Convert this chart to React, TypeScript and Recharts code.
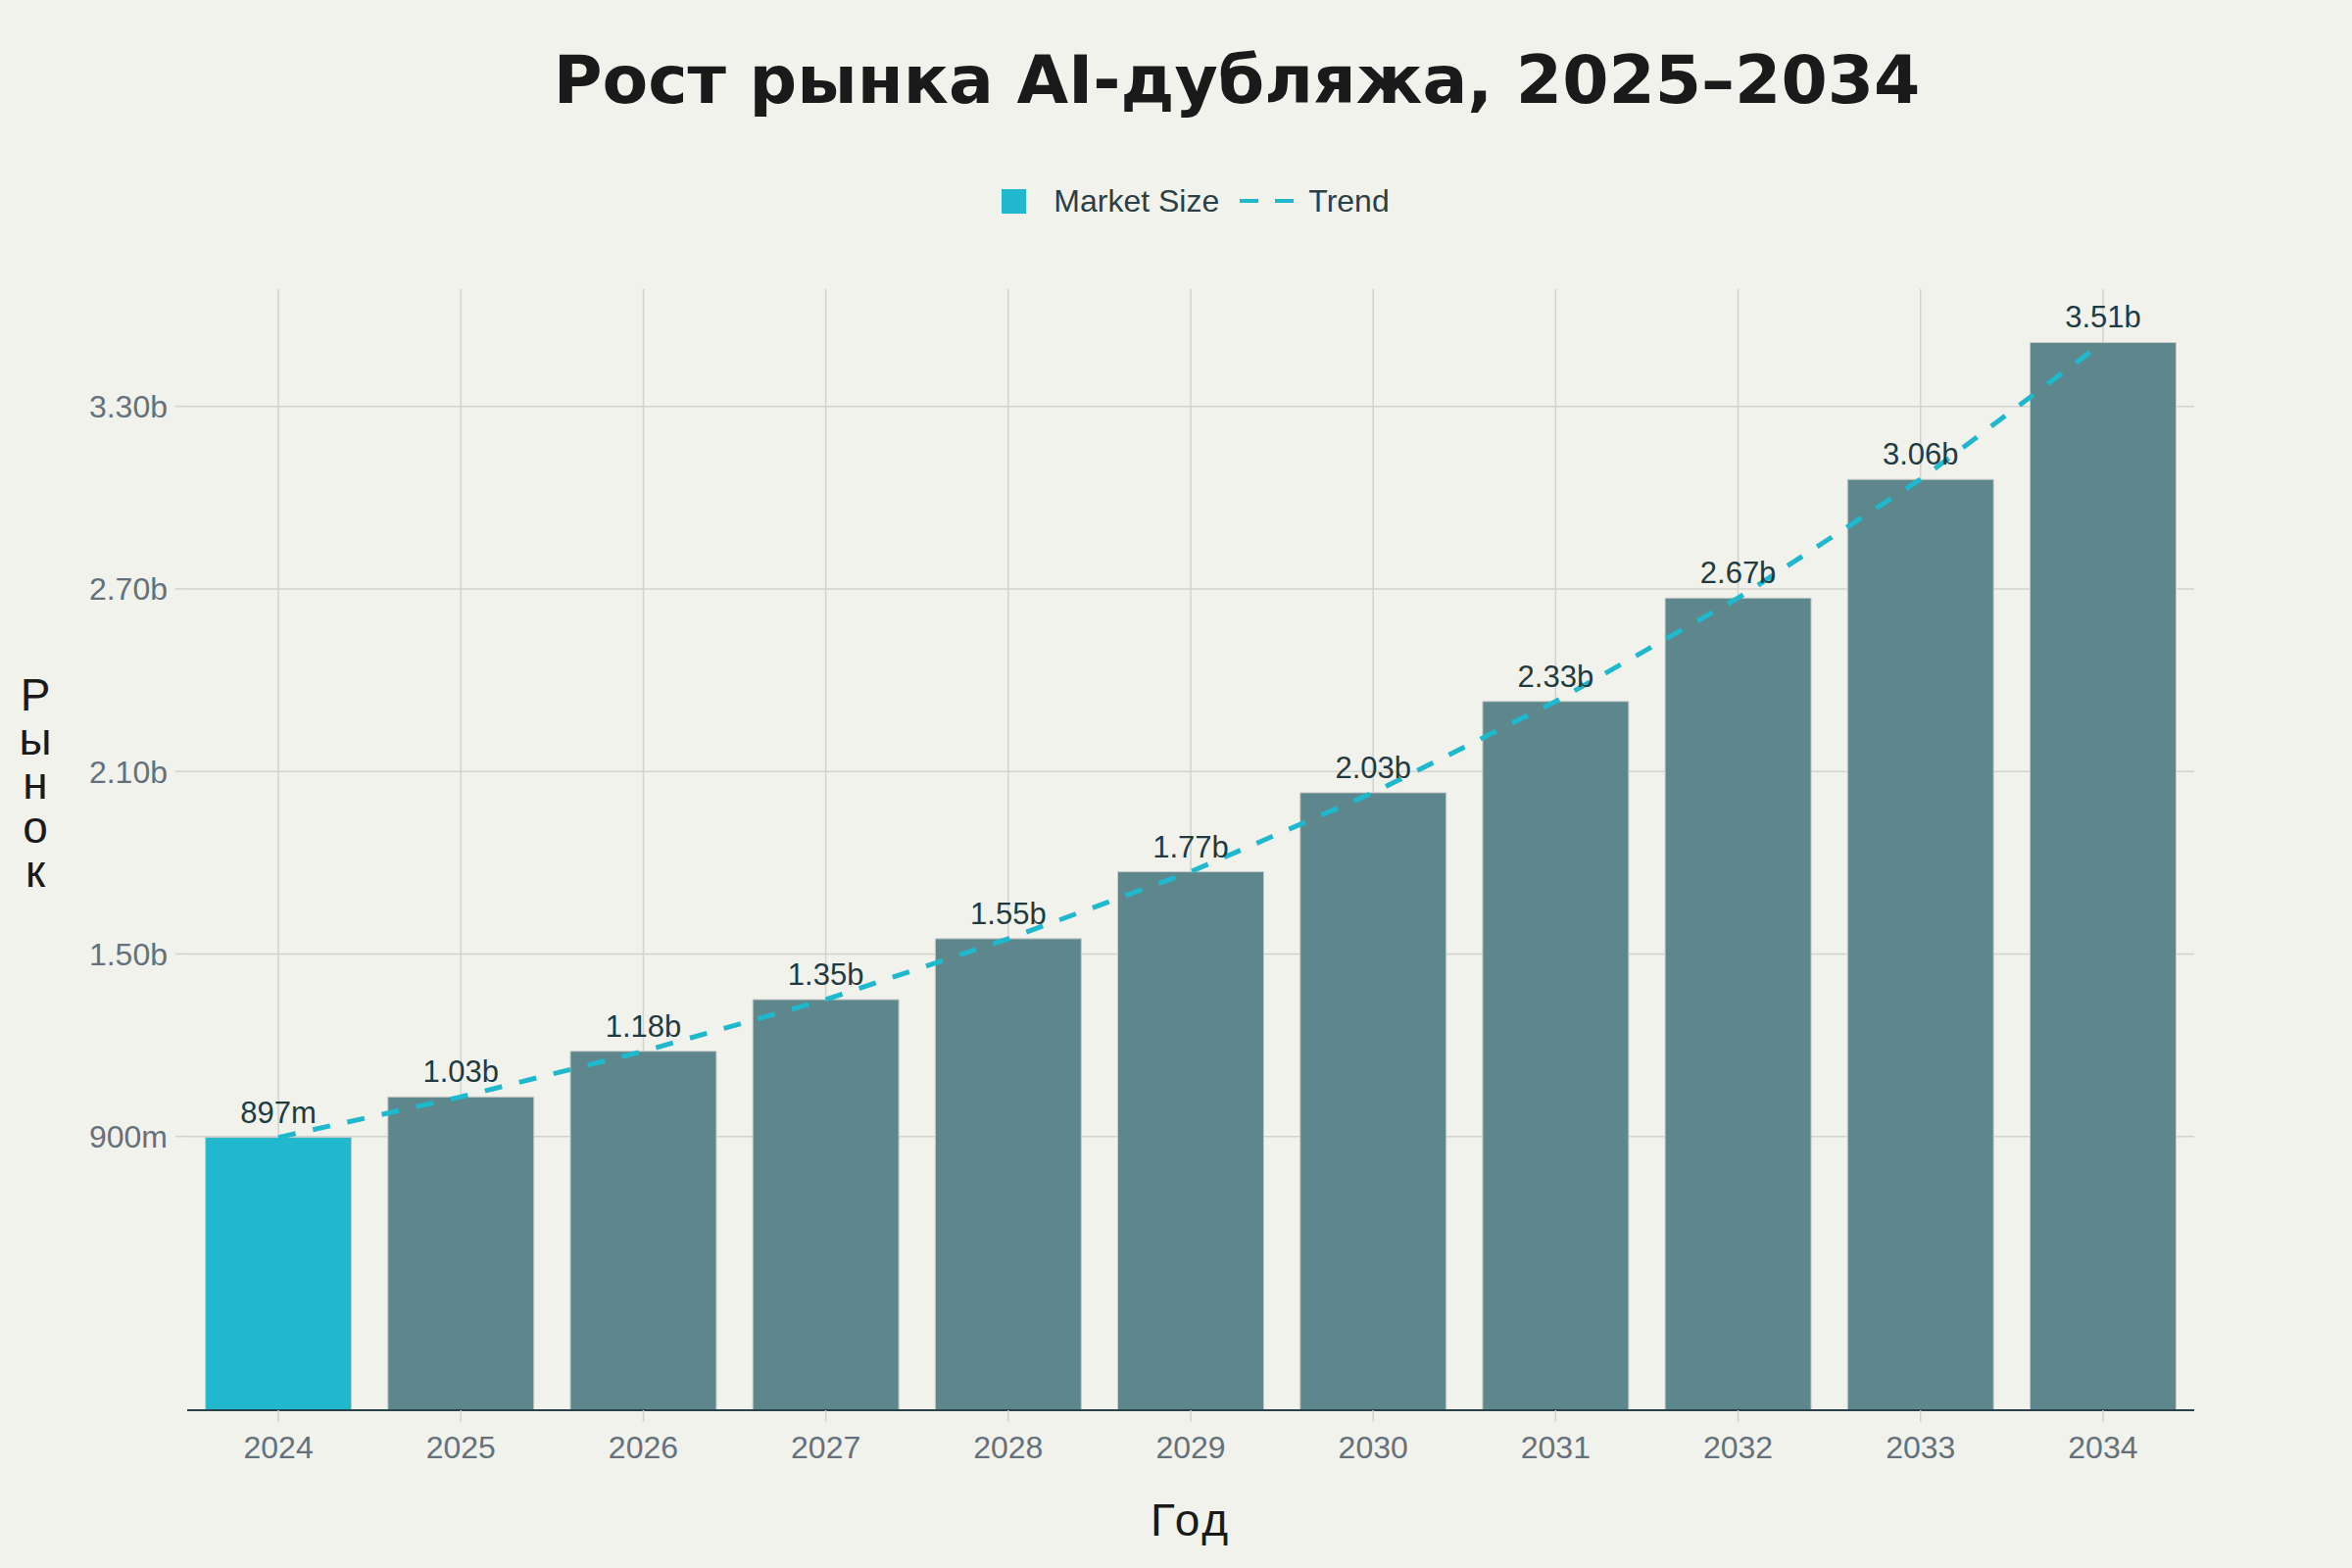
import React from "react";
import {
  ComposedChart,
  Bar,
  Line,
  XAxis,
  YAxis,
  CartesianGrid,
  Legend,
  LabelList,
  Cell,
} from "recharts";

const years = ["2024", "2025", "2026", "2027", "2028", "2029", "2030", "2031", "2032", "2033", "2034"];
const marketSize = [0.897, 1.03, 1.18, 1.35, 1.55, 1.77, 2.03, 2.33, 2.67, 3.06, 3.51];
const trend = [0.897, 1.03, 1.18, 1.35, 1.55, 1.77, 2.03, 2.33, 2.67, 3.06, 3.51];
const yTicks = [0.9, 1.5, 2.1, 2.7, 3.3];

const data = years.map((year, i) => ({ year, size: marketSize[i], trend: trend[i] }));

const BG = "#f2f2ed";
const BAR = "#5d878c";
const ACCENT = "#21b8ce";
const GRID = "#d2d3ce";
const TICK = "#65717a";
const FONT = '"Liberation Sans", Arial, sans-serif';

const fmt = (v: number) => (v < 1 ? `${Math.round(v * 1000)}m` : `${v.toFixed(2)}b`);

const yLetters = ["Р", "ы", "н", "о", "к"];

function LegendContent() {
  return (
    <div
      style={{
        display: "flex",
        alignItems: "center",
        justifyContent: "center",
        height: 50,
        fontFamily: FONT,
        fontSize: 32,
        color: "#2b3f45",
      }}
    >
      <span style={{ width: 25, height: 25, background: ACCENT, display: "inline-block" }} />
      <span style={{ marginLeft: 28 }}>Market Size</span>
      <svg width={55} height={6} style={{ marginLeft: 21 }}>
        <line x1={0} y1={3} x2={55} y2={3} stroke="#1fb8cd" strokeWidth={4} strokeDasharray="19 17" />
      </svg>
      <span style={{ marginLeft: 15 }}>Trend</span>
    </div>
  );
}

export default function App() {
  return (
    <div style={{ position: "absolute", left: 0, top: 0, width: 2400, height: 1600, background: BG }}>
      <ComposedChart
        width={2400}
        height={1600}
        data={data}
        margin={{ top: 295, right: 161, bottom: 101, left: 0 }}
        barCategoryGap="10%"
      >
        <CartesianGrid stroke={GRID} strokeWidth={1.5} syncWithTicks />
        <XAxis
          dataKey="year"
          height={60}
          interval={0}
          axisLine={{ stroke: "#29424a", strokeWidth: 2 }}
          tickLine={{ stroke: GRID, strokeWidth: 1.5 }}
          tickSize={12}
          tickMargin={14}
          tick={{ fill: TICK, fontSize: 32, fontFamily: FONT }}
          label={{
            content: () => (
              <text x={1215} y={1567} textAnchor="middle" fill="#1a1a1a" fontSize={46} fontFamily={FONT} letterSpacing={3}>
                Год
              </text>
            ),
          }}
        />
        <YAxis
          width={191}
          domain={[0, (dataMax: number) => dataMax * 1.05]}
          ticks={yTicks}
          tickFormatter={fmt}
          axisLine={false}
          tickLine={{ stroke: GRID, strokeWidth: 1.5 }}
          tickSize={12}
          tickMargin={8}
          tick={{ fill: TICK, fontSize: 32, fontFamily: FONT }}
          label={{
            content: () => (
              <text textAnchor="middle" fill="#1a1a1a" fontSize={46} fontFamily={FONT}>
                {yLetters.map((ch, i) => (
                  <tspan key={i} x={36} y={725 + i * 45}>
                    {ch}
                  </tspan>
                ))}
              </text>
            ),
          }}
        />
        <Legend
          layout="horizontal"
          verticalAlign="middle"
          align="center"
          wrapperStyle={{ top: 180, left: 20, width: 2400, height: 50 }}
          content={() => <LegendContent />}
        />
        <Bar dataKey="size" name="Market Size" fill={BAR} stroke="#c9ccc8" strokeWidth={1} isAnimationActive={false}>
          {data.map((d, i) => (
            <Cell key={d.year} fill={i === 0 ? ACCENT : BAR} />
          ))}
          <LabelList
            dataKey="size"
            position="top"
            offset={15}
            formatter={(v: number) => fmt(v)}
            fill="#1f3a40"
            fontSize={31}
            fontFamily={FONT}
          />
        </Bar>
        <Line
          type="linear"
          dataKey="trend"
          name="Trend"
          stroke="#1fb8cd"
          strokeWidth={5}
          strokeDasharray="18 18"
          dot={false}
          activeDot={false}
          isAnimationActive={false}
        />
      </ComposedChart>
      <div
        style={{
          position: "absolute",
          left: 62,
          top: 48,
          width: 2400,
          textAlign: "center",
          fontFamily: '"DejaVu Sans", sans-serif',
          fontWeight: "bold",
          fontSize: 68,
          lineHeight: "68px",
          color: "#1a1a1a",
        }}
      >
        Рост рынка AI-дубляжа, 2025–2034
      </div>
    </div>
  );
}
